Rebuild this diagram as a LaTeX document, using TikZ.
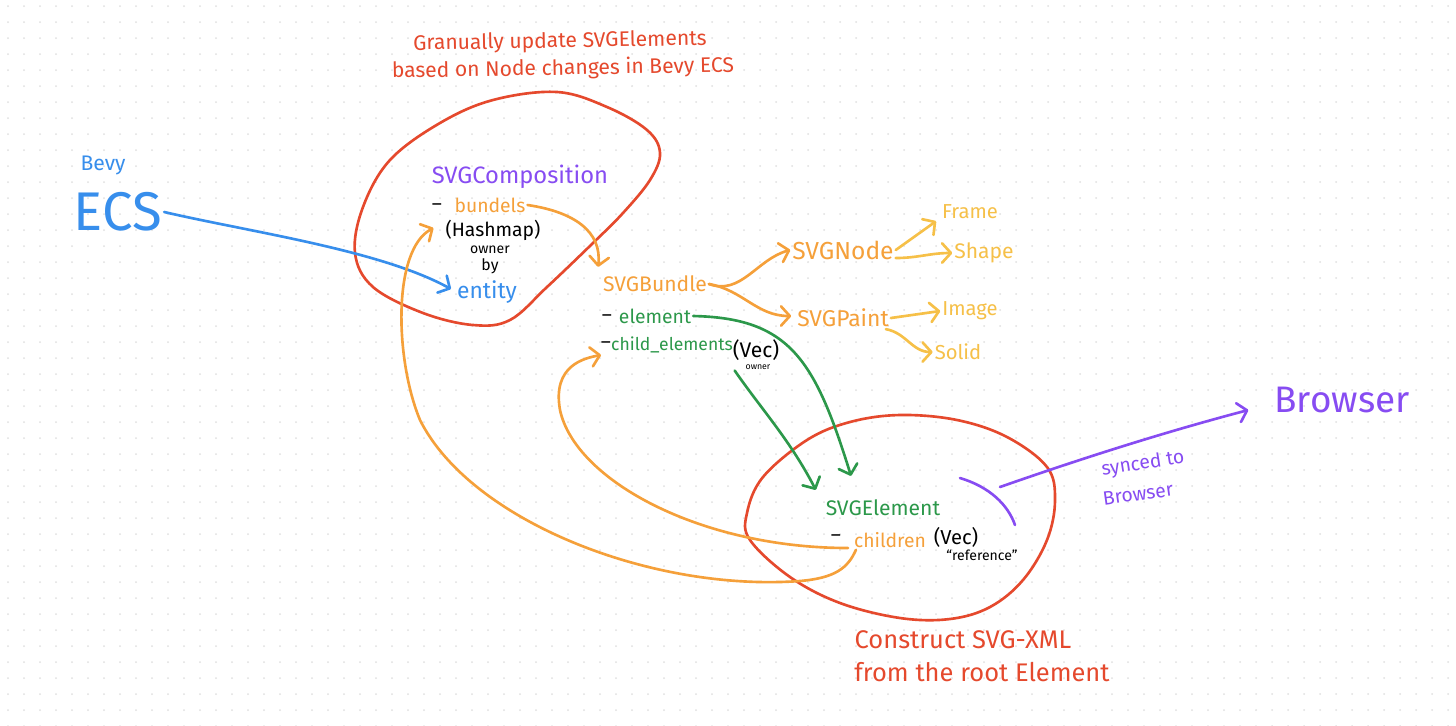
\documentclass[tikz,border=0pt]{standalone}
\usepackage{fontspec}
\setmainfont{Fira Sans}
\usetikzlibrary{arrows.meta,calc}
\definecolor{inkred}{RGB}{229,73,45}
\definecolor{inkorange}{RGB}{245,160,58}
\definecolor{inkyellow}{RGB}{246,192,72}
\definecolor{inkgreen}{RGB}{44,152,74}
\definecolor{inkblue}{RGB}{55,142,236}
\definecolor{inkpurple}{RGB}{135,76,242}
\definecolor{dotgray}{RGB}{224,224,224}

\begin{document}
\begin{tikzpicture}
  [x=0.02cm,y=-0.02cm,every node/.style={inner sep=1pt},
   fs/.style={font=\fontsize{#1}{#1}\selectfont},
   ink/.style={line width=1.5pt,line cap=round,line join=round},
   arr/.style={-{Straight Barb[length=5pt,width=11pt,round]}}]
\useasboundingbox (0,0) rectangle (1456,725);
\fill[white] (0,0) rectangle (1456,725);
% dotted paper
\foreach \i in {0,...,90}
  \foreach \j in {0,...,45}
    \fill[dotgray] (\i*16+8,\j*16+6) circle (1);

% red outlines
\draw[ink,inkred] plot[smooth cycle,tension=0.6] coordinates {(557,92) (607,107) (647,130) (660,153) (650,180) (623,213) (593,243) (547,287) (510,320) (473,325) (423,313) (373,287) (355,253) (363,207) (390,160) (440,123) (493,100)};
\draw[ink,inkred] plot[smooth cycle,tension=0.6] coordinates {(900,415) (957,420) (1007,437) (1047,467) (1055,500) (1047,540) (1023,580) (990,607) (950,619) (900,618) (840,603) (790,577) (750,540) (747,513) (763,477) (807,440) (850,422)};

% notes
\node (ttl1)[fs=12,text=inkred,rotate=1] at (560,42) {Granually update SVGElements};
\node (ttl2)[fs=12,text=inkred,rotate=1] at (563,69) {based on Node changes in Bevy ECS};
\node (cons1)[fs=14.5,text=inkred] at (963,640) {Construct SVG-XML};
\node (cons2)[fs=14.5,text=inkred] at (982,672) {from the root Element};

% Bevy side
\node (bevy)[fs=12,text=inkblue] at (103,165) {Bevy};
\node (ecs)[fs=31,text=inkblue] at (118,212) {ECS};

\node (comp)[fs=13.5,text=inkpurple] at (520,177) {SVGComposition};
\node (dash1)[fs=11] at (437,207) {--};
\node (bund)[fs=11,text=inkorange] at (490,205) {bundels};
\node (hash)[fs=11] at (493,230) {(Hashmap)};
\node (own1)[fs=8] at (490,250) {owner};
\node (by)[fs=9] at (490,266) {by};
\node (ent)[fs=13,text=inkblue] at (487,292) {entity};

\node (bnd)[fs=12,text=inkorange] at (655,284) {SVGBundle};
\node (dash2)[fs=11] at (607,318) {--};
\node (elem)[fs=11,text=inkgreen] at (655,316) {element};
\node (dash3)[fs=11] at (606,345) {--};
\node (child)[fs=10,text=inkgreen] at (672,345) {child\_elements};
\node (vec1)[fs=12] at (756,350) {(Vec)};
\node (own2)[fs=5] at (758,367) {owner};

\node (snode)[fs=14,text=inkorange] at (843,250) {SVGNode};
\node (frame)[fs=11.5,text=inkyellow] at (970,212) {Frame};
\node (shape)[fs=12,text=inkyellow] at (984,253) {Shape};
\node (spaint)[fs=13,text=inkorange] at (843,318) {SVGPaint};
\node (image)[fs=11.5,text=inkyellow] at (970,311) {Image};
\node (solid)[fs=11.5,text=inkyellow] at (958,352) {Solid};

\node (svgel)[fs=12,text=inkgreen] at (883,508) {SVGElement};
\node (dash4)[fs=11] at (836,538) {--};
\node (chil)[fs=11,text=inkorange] at (890,540) {children};
\node (vec2)[fs=11.5] at (956,537) {(Vec)};
\node (ref)[fs=8] at (982,555) {``reference''};

\node (brow)[fs=21,text=inkpurple] at (1342,400) {Browser};
\node (sync1)[fs=11,text=inkpurple,rotate=9] at (1143,464) {synced to};
\node (sync2)[fs=11,text=inkpurple,rotate=8] at (1138,494) {Browser};

% connectors
\draw[ink,inkblue,arr] (ecs.east) .. controls (250,232) and (380,250) .. ($(ent.west)+(-4,-3)$);

\draw[ink,inkorange,arr] (bund.east) .. controls (575,212) and (602,232) .. ($(bnd.north west)+(-3,-7)$);
\path[ink,inkorange,arr] (bnd.east) edge[out=-20,in=195] (snode.west)
  (bnd.east) edge[out=-10,in=180] ($(spaint.west)+(-4,-2)$);
\path[ink,inkyellow,arr]
  (snode.east) edge ($(frame.south west)+(-4,0)$)
  ($(snode.east)+(0,8)$) edge[out=0,in=180] (shape.west)
  (spaint.east) edge (image.west)
  ($(spaint.south east)+(-5,0)$) edge[out=-10,in=180] (solid.west);

\draw[ink,inkgreen,arr] (elem.east) .. controls (790,318) and (815,360) .. ($(svgel.north)+(-32,-22)$);
\draw[ink,inkgreen,arr] ($(vec1.south west)+(4,8)$) .. controls (762,410) and (790,440) .. ($(svgel.north west)+(-8,-8)$);

\draw[ink,inkorange,arr] ($(chil.west)+(-4,8)$) .. controls (700,548) and (575,480) .. (560,410)
  .. controls (552,365) and (585,358) .. ($(child.west)+(-8,10)$);
\draw[ink,inkorange,arr] ($(chil.south west)+(4,0)$) .. controls (848,568) and (835,578) .. (800,581)
  .. controls (650,592) and (470,520) .. (420,420)
  .. controls (395,360) and (392,250) .. ($(hash.west)+(-10,-2)$);

\coordinate (syncfrom) at (1000,487);
\draw[ink,inkpurple] (960,478) .. controls (990,487) and (1008,505) .. (1015,525);
\draw[ink,inkpurple,arr] (syncfrom) .. controls (1100,452) and (1180,428) .. ($(brow.west)+(-24,10)$);
\end{tikzpicture}
\end{document}
